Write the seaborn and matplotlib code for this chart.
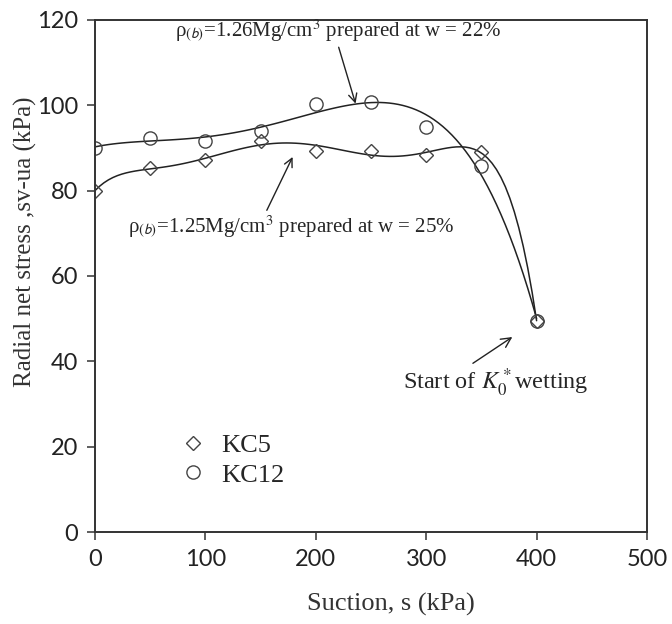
import matplotlib
matplotlib.use("Agg")
import matplotlib.pyplot as plt
import seaborn as sns
import pandas as pd

suction = [0, 50, 100, 150, 200, 250, 300, 350, 400]
kc5 = [80.0, 85.2, 87.2, 91.6, 89.4, 89.4, 88.4, 89.0, 49.5]
kc12 = [90.1, 92.4, 91.7, 94.0, 100.4, 100.8, 95.0, 85.8, 49.5]
x_ticks = [0, 100, 200, 300, 400, 500]
y_ticks = [0, 20, 40, 60, 80, 100, 120]

sns.set_style("ticks")
plt.rcParams['mathtext.fontset'] = 'stix'
serif = 'Liberation Serif'
tickfont = 'Lato'

fig = plt.figure(figsize=(6.72, 6.24), dpi=100)
ax = fig.add_axes([0.1414, 0.1474, 0.8214, 0.8206])

df = pd.DataFrame({"s": suction, "KC5": kc5, "KC12": kc12})

sns.regplot(data=df, x="s", y="KC5", order=6, ci=None, scatter=False, truncate=True,
            line_kws=dict(color="#222222", lw=1.1), ax=ax)
sns.regplot(data=df, x="s", y="KC12", order=4, ci=None, scatter=False, truncate=True,
            line_kws=dict(color="#222222", lw=1.1), ax=ax)

ax.plot(df["s"], df["KC5"], linestyle='none', marker='D', markersize=7.5,
        markerfacecolor='none', markeredgecolor='#444444', markeredgewidth=1.0, label='KC5')
ax.plot(df["s"], df["KC12"], linestyle='none', marker='o', markersize=9.5,
        markerfacecolor='none', markeredgecolor='#444444', markeredgewidth=1.0, label='KC12')

ax.set_xlim(0, 500)
ax.set_ylim(0, 120)
ax.set_xticks(x_ticks)
ax.set_yticks(y_ticks)
for lab in ax.get_xticklabels() + ax.get_yticklabels():
    lab.set_fontfamily(tickfont)
    lab.set_fontsize(17)
    lab.set_color('#222222')
ax.tick_params(direction='out', length=6, width=1.1, color='#333333', pad=6)
for sp in ax.spines.values():
    sp.set_linewidth(1.4)
    sp.set_color('#333333')
    sp.set_visible(True)

ax.set_xlabel("Suction, s (kPa)", fontfamily=serif, fontsize=19, color='#333333')
ax.xaxis.set_label_coords(0.536, -0.118)
ax.set_ylabel("Radial net stress ,sv-ua (kPa)", fontfamily=serif, fontsize=18, color='#333333')
ax.yaxis.set_label_coords(-0.105, 0.566)

leg = ax.legend(loc='upper left', bbox_to_anchor=(0.11, 0.238), frameon=False,
                prop={'family': serif, 'size': 19}, handletextpad=0.6, labelspacing=0.22,
                handlelength=1.0)

ax.annotate(r"ρ$_{\mathsf{(b)}}$=1.26Mg/cm$^{\mathrm{3}}$ prepared at w = 22%", xy=(236, 100.4), xytext=(72, 117.5),
            fontsize=15, fontfamily=serif, va='center', ha='left',
            arrowprops=dict(arrowstyle='->', color='#222222', lw=1.0, shrinkA=0, shrinkB=0,
                            relpos=(0.5, 0.0)))
ax.annotate(r"ρ$_{\mathsf{(b)}}$=1.25Mg/cm$^{\mathrm{3}}$ prepared at w = 25%", xy=(179, 87.9), xytext=(30, 71.5),
            fontsize=15, fontfamily=serif, va='center', ha='left',
            arrowprops=dict(arrowstyle='->', color='#222222', lw=1.0, shrinkA=0, shrinkB=0,
                            relpos=(0.42, 1.0)))
ax.annotate(r"Start of $K_0^*$wetting", xy=(378, 45.7), xytext=(279, 35),
            fontsize=17.5, fontfamily=serif, va='center', ha='left',
            arrowprops=dict(arrowstyle='->', color='#222222', lw=1.0, shrinkA=0, shrinkB=0,
                            relpos=(0.35, 1.0)))

fig.savefig("out.png", dpi=100, facecolor='white')
